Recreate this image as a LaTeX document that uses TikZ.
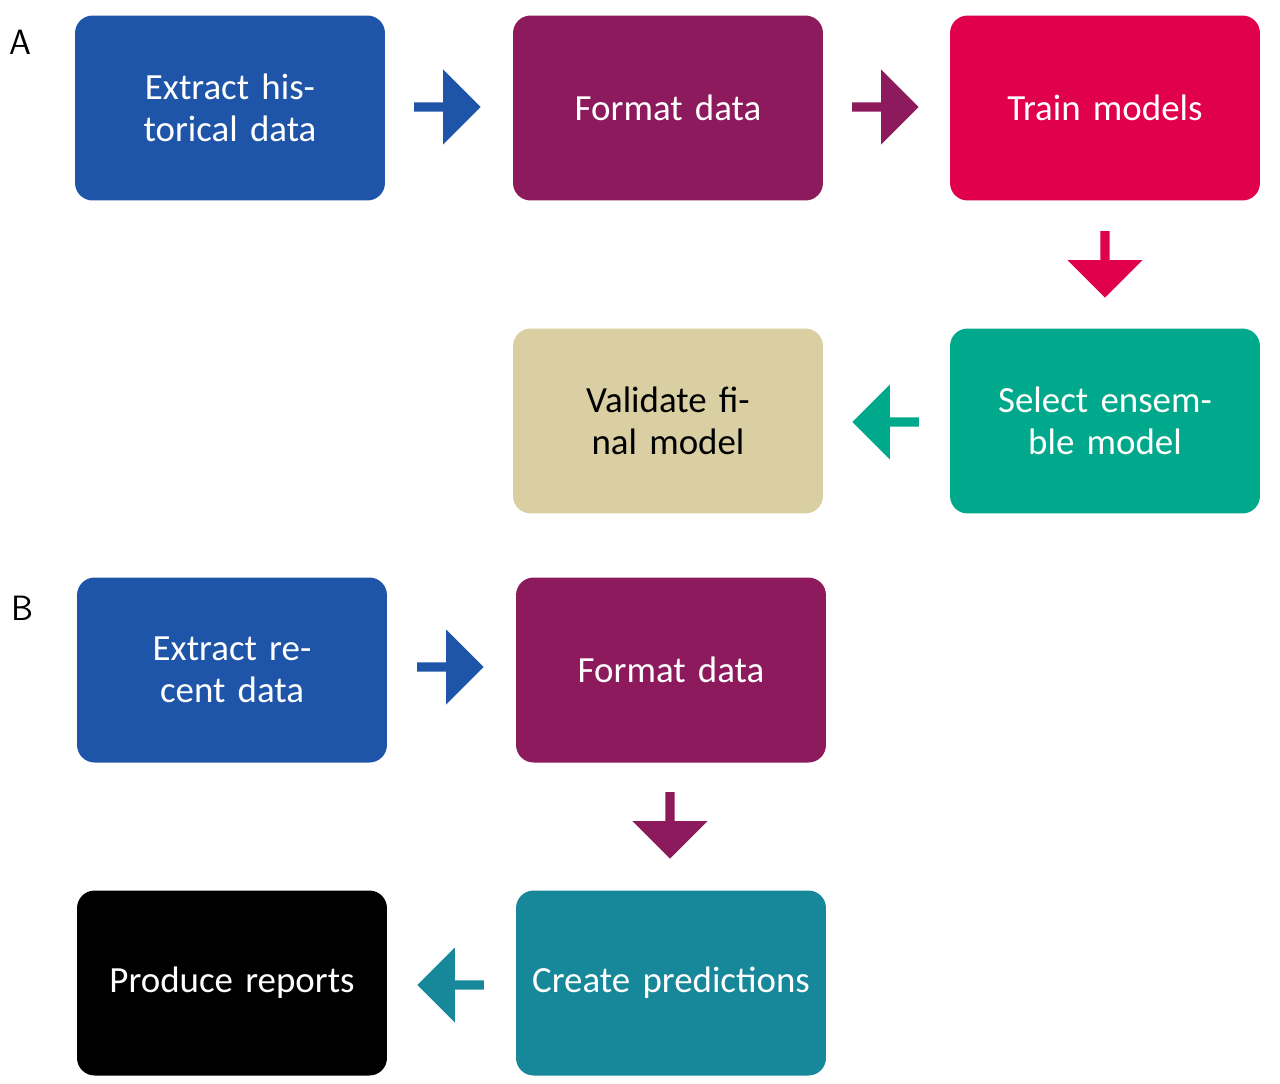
\documentclass[tikz,border=0pt]{standalone}
\usepackage{fontspec}
\setmainfont{Carlito}
\usetikzlibrary{shapes.arrows}
\definecolor{stepblue}{HTML}{1F55A8}
\definecolor{stepplum}{HTML}{8C1A5C}
\definecolor{stepred}{HTML}{E1004B}
\definecolor{stepgreen}{HTML}{00A98B}
\definecolor{steptan}{HTML}{D9CFA2}
\definecolor{stepteal}{HTML}{17879A}
\tikzset{
  stage/.style = {rounded corners=10pt, minimum width=6.2cm, minimum height=3.7cm,
    text width=5.6cm, align=center, text=white, font=\fontsize{21}{24}\selectfont},
  pointer/.style = {single arrow, minimum width=1.5cm, single arrow head extend=0.05cm,
    minimum height=1.33cm, inner sep=0pt},
  tag/.style = {font=\sffamily\fontsize{20}{22}\selectfont}
}
\begin{document}
\begin{tikzpicture}[x=0.02cm, y=-0.02cm]

%% Frame
\useasboundingbox (0,0) rectangle (1280,1083);

%% Part A
\node[tag] (tagA) at (20,42) {A};
\node[stage, fill=stepblue] (extractA) at (230,108) {Extract historical data};
\node[stage, fill=stepplum] (formatA) at (668,108) {Format data};
\node[stage, fill=stepred] (train) at (1105,108) {Train models};
\node[stage, fill=stepgreen] (select) at (1105,421) {Select ensemble model};
\node[stage, fill=steptan, text=black] (validate) at (668,421) {Validate final model};

\node[pointer, fill=stepblue] (arrA1) at (445,107) {};
\node[pointer, fill=stepplum] (arrA2) at (883,107) {};
\node[pointer, fill=stepred, shape border rotate=270] (arrA3) at (1105,262) {};
\node[pointer, fill=stepgreen, shape border rotate=180] (arrA4) at (888,422) {};

%% Part B
\node[tag] (tagB) at (22,608) {B};
\node[stage, fill=stepblue] (extractB) at (232,670) {Extract recent data};
\node[stage, fill=stepplum] (formatB) at (671,670) {Format data};
\node[stage, fill=stepteal] (predict) at (671,983) {Create predictions};
\node[stage, fill=black] (report) at (232,983) {Produce reports};

\node[pointer, fill=stepblue] (arrB1) at (448,667) {};
\node[pointer, fill=stepplum, shape border rotate=270] (arrB2) at (670,823) {};
\node[pointer, fill=stepteal, shape border rotate=180] (arrB3) at (453,985) {};

\end{tikzpicture}
\end{document}
